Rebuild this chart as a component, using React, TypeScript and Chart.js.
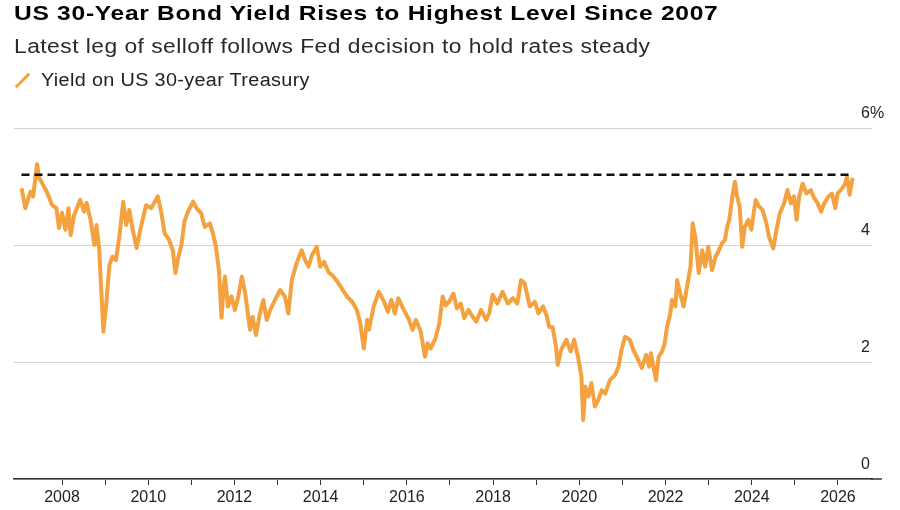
import { useEffect, useLayoutEffect, useRef } from "react";
import { Chart, registerables } from "chart.js";

Chart.register(...registerables);

const TITLE = "US 30-Year Bond Yield Rises to Highest Level Since 2007";
const SUBTITLE = "Latest leg of selloff follows Fed decision to hold rates steady";
const SERIES_LABEL = "Yield on US 30-year Treasury";

// decimal year of each reading
const years = [
  2007.06, 2007.1, 2007.15, 2007.21, 2007.27, 2007.33, 2007.42, 2007.47, 2007.58, 2007.66,
  2007.77, 2007.87, 2007.93, 2008.0, 2008.08, 2008.15, 2008.2, 2008.28, 2008.42, 2008.51,
  2008.57, 2008.67, 2008.75, 2008.8, 2008.86, 2008.96, 2009.02, 2009.1, 2009.17, 2009.25,
  2009.33, 2009.42, 2009.49, 2009.56, 2009.64, 2009.73, 2009.83, 2009.95, 2010.07, 2010.22,
  2010.3, 2010.38, 2010.48, 2010.57, 2010.63, 2010.7, 2010.77, 2010.84, 2010.92, 2011.04,
  2011.12, 2011.23, 2011.31, 2011.43, 2011.5, 2011.57, 2011.64, 2011.7, 2011.74, 2011.78,
  2011.85, 2011.93, 2012.01, 2012.09, 2012.17, 2012.25, 2012.36, 2012.42, 2012.5, 2012.59,
  2012.67, 2012.75, 2012.83, 2012.94, 2013.06, 2013.17, 2013.25, 2013.33, 2013.45, 2013.56,
  2013.64, 2013.72, 2013.8, 2013.91, 2013.99, 2014.08, 2014.18, 2014.3, 2014.41, 2014.49,
  2014.61, 2014.73, 2014.84, 2014.92, 2015.0, 2015.08, 2015.12, 2015.23, 2015.35, 2015.47,
  2015.56, 2015.64, 2015.72, 2015.8, 2015.93, 2016.05, 2016.13, 2016.21, 2016.32, 2016.42,
  2016.48, 2016.55, 2016.66, 2016.75, 2016.83, 2016.9, 2016.98, 2017.08, 2017.16, 2017.25,
  2017.33, 2017.43, 2017.53, 2017.61, 2017.72, 2017.84, 2017.91, 2017.99, 2018.1, 2018.22,
  2018.34, 2018.46, 2018.56, 2018.65, 2018.73, 2018.85, 2018.97, 2019.05, 2019.16, 2019.24,
  2019.3, 2019.38, 2019.46, 2019.5, 2019.58, 2019.7, 2019.8, 2019.88, 2019.97, 2020.05,
  2020.09, 2020.14, 2020.21, 2020.28, 2020.36, 2020.44, 2020.52, 2020.6, 2020.71, 2020.83,
  2020.91, 2020.98, 2021.06, 2021.17, 2021.25, 2021.37, 2021.45, 2021.55, 2021.62, 2021.66,
  2021.72, 2021.78, 2021.84, 2021.92, 2021.98, 2022.03, 2022.11, 2022.15, 2022.23, 2022.27,
  2022.34, 2022.42, 2022.5, 2022.58, 2022.63, 2022.69, 2022.77, 2022.85, 2022.92, 2022.99,
  2023.08, 2023.16, 2023.24, 2023.31, 2023.38, 2023.43, 2023.48, 2023.55, 2023.61, 2023.66,
  2023.72, 2023.78, 2023.84, 2023.92, 2023.99, 2024.09, 2024.17, 2024.25, 2024.34, 2024.4,
  2024.5, 2024.56, 2024.65, 2024.75, 2024.83, 2024.91, 2024.98, 2025.04, 2025.1, 2025.18,
  2025.27, 2025.37, 2025.45, 2025.53, 2025.61, 2025.68, 2025.78, 2025.86, 2025.94, 2025.99,
  2026.1, 2026.17, 2026.21, 2026.27, 2026.33, 2026.36,
];

// yield, percent
const yields = [
  4.97, 4.82, 4.63, 4.78, 4.91, 4.83, 5.38, 5.15, 5.0, 4.89,
  4.68, 4.63, 4.29, 4.55, 4.26, 4.63, 4.17, 4.51, 4.77, 4.57,
  4.72, 4.4, 4.0, 4.34, 3.95, 2.52, 2.95, 3.66, 3.8, 3.74,
  4.14, 4.74, 4.34, 4.6, 4.26, 3.95, 4.31, 4.68, 4.63, 4.83,
  4.57, 4.2, 4.09, 3.91, 3.52, 3.8, 4.0, 4.4, 4.57, 4.74,
  4.63, 4.54, 4.31, 4.37, 4.2, 3.97, 3.57, 2.76, 3.2, 3.46,
  2.95, 3.12, 2.89, 3.12, 3.46, 3.17, 2.55, 2.77, 2.46, 2.83,
  3.06, 2.72, 2.89, 3.06, 3.23, 3.12, 2.83, 3.4, 3.71, 3.91,
  3.74, 3.63, 3.83, 3.97, 3.63, 3.71, 3.54, 3.46, 3.35, 3.26,
  3.12, 3.03, 2.89, 2.66, 2.23, 2.72, 2.55, 2.95, 3.2, 3.03,
  2.86, 3.06, 2.83, 3.09, 2.89, 2.72, 2.55, 2.72, 2.52, 2.09,
  2.32, 2.23, 2.4, 2.65, 3.12, 2.97, 3.03, 3.17, 2.92, 3.0,
  2.75, 2.89, 2.77, 2.69, 2.89, 2.72, 2.83, 3.15, 3.0, 3.2,
  3.0, 3.09, 3.0, 3.4, 3.35, 2.95, 3.03, 2.83, 2.95, 2.8,
  2.6, 2.6, 2.26, 1.95, 2.21, 2.38, 2.18, 2.38, 2.09, 1.75,
  1.01, 1.58, 1.41, 1.64, 1.24, 1.35, 1.52, 1.46, 1.69, 1.78,
  1.92, 2.21, 2.43, 2.38, 2.21, 2.03, 1.9, 2.12, 1.92, 2.15,
  1.92, 1.69, 2.09, 2.18, 2.32, 2.58, 2.83, 3.06, 2.95, 3.4,
  3.17, 2.95, 3.29, 3.63, 4.37, 4.14, 3.52, 3.91, 3.63, 3.97,
  3.57, 3.8, 3.91, 4.03, 4.09, 4.31, 4.43, 4.83, 5.08, 4.83,
  4.66, 3.97, 4.31, 4.43, 4.26, 4.77, 4.66, 4.6, 4.37, 4.14,
  3.94, 4.2, 4.54, 4.71, 4.94, 4.71, 4.83, 4.43, 4.83, 5.05,
  4.88, 4.94, 4.8, 4.71, 4.57, 4.71, 4.83, 4.88, 4.63, 4.88,
  4.97, 5.05, 5.17, 4.86, 5.11, 5.14,
];

const referenceLevel = 5.2; // dashed line: 2007 high
const yTicks = [0, 2, 4, 6];
const xRange = [2006.886, 2026.79];
const firstYearTick = 2008;
const axisLineEnd = 2027.02;

const ORANGE = "#f4a240";
const FONT = "'Liberation Sans', Arial, sans-serif";

// y labels sit above their gridlines, just inside the right end
const yLabels = {
  id: "yLabels",
  afterDraw(chart: Chart) {
    const { ctx, chartArea, scales } = chart;
    ctx.save();
    ctx.font = "16px 'Liberation Sans'";
    ctx.fillStyle = "#222";
    ctx.textAlign = "left";
    ctx.textBaseline = "middle";
    yTicks.forEach((v) => {
      const label = v === 6 ? "6%" : String(v);
      ctx.fillText(label, chartArea.right - 11, scales.y.getPixelForValue(v) - 14);
    });
    ctx.restore();
  },
};

// the bottom axis runs a little past the plot area in the original
const axisExtension = {
  id: "axisExtension",
  afterDraw(chart: Chart) {
    const { ctx, chartArea, scales } = chart;
    const x2 = scales.x.getPixelForValue(axisLineEnd);
    ctx.save();
    ctx.strokeStyle = "#333";
    ctx.lineWidth = 1.5;
    ctx.beginPath();
    ctx.moveTo(chartArea.right - 1, chartArea.bottom);
    ctx.lineTo(x2, chartArea.bottom);
    ctx.stroke();
    ctx.restore();
  },
};

function YieldChart() {
  const canvasRef = useRef<HTMLCanvasElement | null>(null);

  useEffect(() => {
    if (!canvasRef.current) return;
    const points = years.map((x, i) => ({ x, y: yields[i] }));
    const refLine = [
      { x: years[0], y: referenceLevel },
      { x: years[years.length - 1], y: referenceLevel },
    ];

    const chart = new Chart(canvasRef.current, {
      type: "line",
      data: {
        datasets: [
          {
            label: "2007 high",
            data: refLine,
            borderColor: "#111",
            borderWidth: 2.5,
            borderDash: [8, 5],
            pointRadius: 0,
          },
          {
            label: SERIES_LABEL,
            data: points,
            borderColor: ORANGE,
            borderWidth: 4,
            borderJoinStyle: "round",
            pointRadius: 0,
            tension: 0,
          },
        ],
      },
      options: {
        animation: false,
        responsive: true,
        maintainAspectRatio: false,
        layout: { padding: { top: 128, left: 14, right: 0, bottom: 0 } },
        plugins: { legend: { display: false }, tooltip: { enabled: false } },
        scales: {
          x: {
            type: "linear",
            min: xRange[0],
            max: xRange[1],
            afterFit: (s: any) => {
              s.height = 31;
            },
            afterBuildTicks: (s: any) => {
              s.ticks = s.ticks.filter((t: any) => t.value >= firstYearTick);
            },
            border: { display: true, color: "#333", width: 1.5 },
            grid: {
              display: true,
              drawOnChartArea: false,
              drawTicks: true,
              tickLength: 6,
              color: "#333",
              lineWidth: 1,
            },
            ticks: {
              stepSize: 1,
              includeBounds: false,
              autoSkip: false,
              maxRotation: 0,
              padding: 3,
              color: "#222",
              font: { family: "Liberation Sans", size: 16 },
              callback: (v: any) => (Number(v) % 2 === 0 ? String(v) : ""),
            },
          },
          y: {
            position: "right",
            min: 0,
            max: 6,
            afterFit: (s: any) => {
              s.width = 28;
            },
            afterBuildTicks: (s: any) => {
              s.ticks = yTicks.map((value) => ({ value }));
            },
            border: { display: false },
            grid: { color: "#d3d3d3", lineWidth: 1, drawTicks: false },
            ticks: { display: false },
          },
        },
      },
      plugins: [yLabels, axisExtension],
    });

    return () => chart.destroy();
  }, []);

  return <canvas ref={canvasRef} />;
}

// the original type is wider than Liberation Sans; stretch each line to its width
function FitText({
  width,
  style,
  children,
}: {
  width: number;
  style: React.CSSProperties;
  children: React.ReactNode;
}) {
  const ref = useRef<HTMLDivElement | null>(null);
  useLayoutEffect(() => {
    const el = ref.current;
    if (!el) return;
    el.style.transform = "none";
    const w = el.offsetWidth;
    if (w > 0) el.style.transform = `scaleX(${width / w})`;
  }, [width]);
  return (
    <div
      ref={ref}
      style={{
        position: "absolute",
        whiteSpace: "nowrap",
        transformOrigin: "0 0",
        fontFamily: FONT,
        ...style,
      }}
    >
      {children}
    </div>
  );
}

export default function App() {
  return (
    <div
      style={{
        position: "fixed",
        left: 0,
        top: 0,
        width: 900,
        height: 510,
        background: "#fff",
        fontFamily: FONT,
      }}
    >
      <div style={{ position: "absolute", left: 0, top: 0, width: 900, height: 510 }}>
        <YieldChart />
      </div>
      <FitText
        width={704}
        style={{
          left: 14,
          top: 2,
          fontSize: 21,
          lineHeight: "21px",
          fontWeight: 700,
          letterSpacing: 0.6,
          color: "#000",
        }}
      >
        {TITLE}
      </FitText>
      <FitText
        width={636}
        style={{
          left: 14,
          top: 36,
          fontSize: 20,
          lineHeight: "20px",
          letterSpacing: 0.4,
          color: "#2a2a2a",
        }}
      >
        {SUBTITLE}
      </FitText>
      <div
        style={{
          position: "absolute",
          left: 21,
          top: 71,
          width: 3,
          height: 19,
          background: ORANGE,
          transform: "rotate(45deg)",
        }}
      />
      <FitText
        width={269}
        style={{
          left: 41,
          top: 71,
          fontSize: 18,
          lineHeight: "18px",
          letterSpacing: 0.3,
          color: "#222",
        }}
      >
        {SERIES_LABEL}
      </FitText>
    </div>
  );
}
